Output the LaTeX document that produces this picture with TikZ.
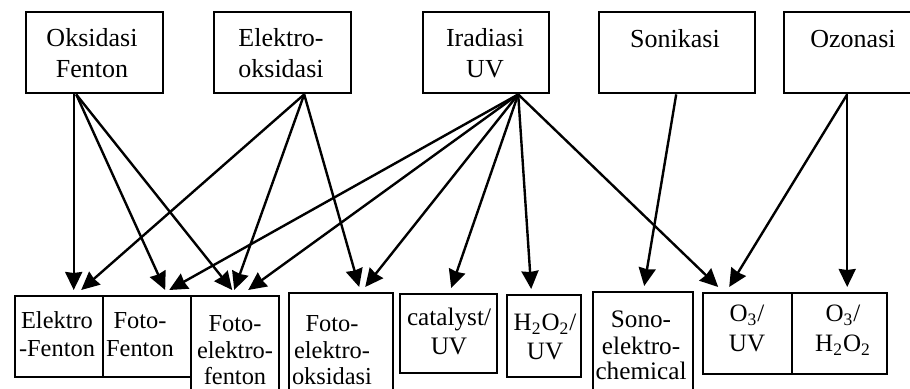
\documentclass[tikz,border=0pt]{standalone}
\usepackage{fontspec}
\setmainfont{Liberation Serif}
\usetikzlibrary{arrows.meta}

\tikzset{
  box/.style={draw, anchor=north west, inner sep=0pt},
  txt/.style n args={2}{anchor=base, align=center, inner sep=0pt, font=\fontsize{#1}{#2}\selectfont}
}

\begin{document}
\begin{tikzpicture}[x=0.5pt, y=-0.5pt, line width=1.2pt, >={Stealth[length=9pt, width=8.5pt, inset=0.5pt]}]

    \useasboundingbox (0,0) rectangle (910,389);

    % Upper boxes
    \node[box, minimum width=68.5pt, minimum height=40.5pt] (fenton) at (25,11) {};
    \node[box, minimum width=68.5pt, minimum height=40.5pt] (elox) at (213,11) {};
    \node[box, minimum width=63pt, minimum height=40.5pt] (uv) at (422,11) {};
    \node[box, minimum width=78pt, minimum height=40.5pt] (sonik) at (598,11) {};
    \node[box, minimum width=70pt, minimum height=40.5pt] (ozon) at (783,11) {};

    % (base = baseline of the last line)
    \node[txt={13}{15.5pt}] (fenton-t) at (92,78) {Oksidasi\\Fenton};
    \node[txt={13}{15.5pt}] (elox-t) at (281,78) {Elektro-\\oksidasi};
    \node[txt={13}{15.5pt}] (uv-t) at (485,78) {Iradiasi\\UV};
    \node[txt={13}{15.5pt}] (sonik-t) at (675,48) {Sonikasi};
    \node[txt={13}{15.5pt}] (ozon-t) at (853,48) {Ozonasi};

    % Lower boxes
    \node[box, minimum width=44pt, minimum height=40.5pt] (ef) at (14,295) {};
    \node[box, minimum width=44pt, minimum height=40.5pt] (ff) at (102,295) {};
    \node[box, minimum width=44pt, minimum height=60pt] (fef) at (190,295) {};
    \node[box, minimum width=52pt, minimum height=60pt] (feo) at (288,292) {};
    \node[box, minimum width=48.5pt, minimum height=39.5pt] (cat) at (399,293) {};
    \node[box, minimum width=37pt, minimum height=41pt] (hp) at (506,294) {};
    \node[box, minimum width=50pt, minimum height=60pt] (sono) at (592,291) {};
    \node[box, minimum width=44.5pt, minimum height=40.5pt] (ouv) at (702,292) {};
    \node[box, minimum width=47.5pt, minimum height=40.5pt] (ohp) at (791,292) {};

    \node[txt={12.2}{14pt}] (ef-t) at (57,357) {Elektro\\-Fenton};
    \node[txt={12.2}{14pt}] (ff-t) at (140,357) {Foto-\\Fenton};
    \node[txt={12.2}{13.3pt}] (fef-t) at (235,385) {Foto-\\elektro-\\fenton};
    \node[txt={12.2}{13.3pt}] (feo-t) at (332,385) {Foto-\\elektro-\\oksidasi};
    \node[txt={12.6}{14.5pt}] (cat-t) at (449,355) {catalyst/\\UV};
    \node[txt={12.5}{14.5pt}] (hp-t) at (545,360) {H\textsubscript{2}O\textsubscript{2}/\\UV};
    \node[txt={12.6}{13pt}] (sono-t) at (641,380) {Sono-\\elektro-\\chemical};
    \node[txt={12.5}{15pt}] (ouv-t) at (747,352) {O\textsubscript{3}/\\UV};
    \node[txt={12.5}{15pt}] (ohp-t) at (843,352) {O\textsubscript{3}/\\H\textsubscript{2}O\textsubscript{2}};

    % Arrows from Oksidasi Fenton
    \draw[->] ([xshift=-10.5pt]fenton.south) -- ([xshift=7.25pt, yshift=2.5pt]ef.north);
    \draw[->] ([xshift=-9.25pt]fenton.south) -- ([xshift=9pt, yshift=2.5pt]ff.north);
    \draw[->] ([xshift=-9.25pt]fenton.south) -- ([xshift=-1.5pt, yshift=2.5pt]fef.north);

    % Arrows from Elektro-oksidasi
    \draw[->] ([xshift=10.75pt]elox.south) -- ([xshift=11pt, yshift=2.5pt]ef.north);
    \draw[->] ([xshift=10.75pt]elox.south) -- ([xshift=-0.5pt, yshift=2.5pt]fef.north);
    \draw[->] ([xshift=10.75pt]elox.south) -- ([xshift=9pt, yshift=2.5pt]feo.north);

    % Arrows from Iradiasi UV
    \draw[->] ([xshift=16pt]uv.south) -- ([xshift=11pt, yshift=2.5pt]ff.north);
    \draw[->] ([xshift=16pt]uv.south) -- ([xshift=6.5pt, yshift=2.5pt]fef.north);
    \draw[->] ([xshift=16pt]uv.south) -- ([xshift=12pt, yshift=2.5pt]feo.north);
    \draw[->] ([xshift=16pt]uv.south) -- ([xshift=1.25pt, yshift=2.5pt]cat.north);
    \draw[->] ([xshift=16pt]uv.south) -- ([xshift=-6.5pt, yshift=2.5pt]hp.north);
    \draw[->] ([xshift=16pt]uv.south) -- ([xshift=-14.75pt, yshift=2.5pt]ouv.north);

    % Arrows from Sonikasi and Ozonasi
    \draw[->] ([xshift=-0.5pt]sonik.south) -- ([xshift=0.5pt, yshift=2.5pt]sono.north);
    \draw[->] ([xshift=-3.5pt]ozon.south) -- ([xshift=-9.25pt, yshift=2.5pt]ouv.north);
    \draw[->] ([xshift=-3.5pt]ozon.south) -- ([xshift=3.75pt, yshift=2.5pt]ohp.north);

\end{tikzpicture}
\end{document}
